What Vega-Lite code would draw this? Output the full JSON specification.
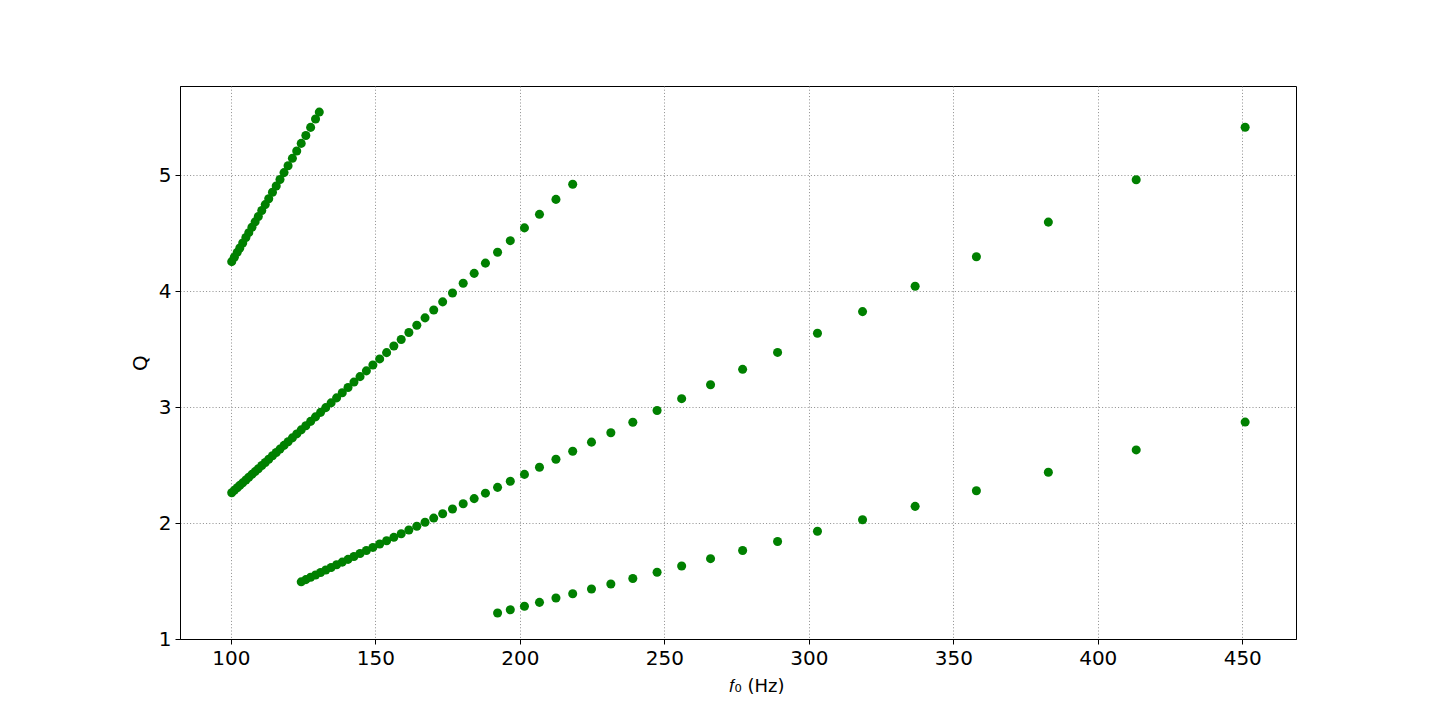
{
  "$schema": "https://vega.github.io/schema/vega-lite/v6.json",
  "autosize": {"type": "none"},
  "width": 1116,
  "height": 553,
  "padding": {"left": 180, "top": 86, "right": 144, "bottom": 79},
  "background": "white",
  "config": {
    "view": {"stroke": "black", "strokeWidth": 1},
    "axis": {
      "domainColor": "black", "domainWidth": 1,
      "tickColor": "black", "tickSize": 5, "tickWidth": 1,
      "labelFont": "DejaVu Sans", "labelFontSize": 20, "labelColor": "black", "labelPadding": 4,
      "titleFont": "DejaVu Sans", "titleFontWeight": "normal", "titleColor": "black",
      "gridColor": "#808080", "gridDash": [1, 2.2], "gridWidth": 0.9, "gridOpacity": 1
    }
  },
  "data": {"values": [
    {"f":100.3,"Q":4.255},{"f":101.2,"Q":4.293},{"f":102.2,"Q":4.335},{"f":103.1,"Q":4.373},{"f":104.1,"Q":4.416},
    {"f":105.2,"Q":4.463},{"f":106.2,"Q":4.505},{"f":107.3,"Q":4.552},{"f":108.4,"Q":4.598},{"f":109.5,"Q":4.645},
    {"f":110.7,"Q":4.696},{"f":111.9,"Q":4.747},{"f":113.1,"Q":4.798},{"f":114.4,"Q":4.853},{"f":115.7,"Q":4.908},
    {"f":117.0,"Q":4.963},{"f":118.4,"Q":5.023},{"f":119.8,"Q":5.082},{"f":121.3,"Q":5.146},{"f":122.8,"Q":5.209},
    {"f":124.35,"Q":5.275},{"f":125.95,"Q":5.343},{"f":127.6,"Q":5.413},{"f":129.3,"Q":5.485},{"f":130.6,"Q":5.545},

    {"f":100.3,"Q":2.262},{"f":101.2,"Q":2.282},{"f":102.2,"Q":2.305},{"f":103.1,"Q":2.325},{"f":104.1,"Q":2.347},
    {"f":105.2,"Q":2.372},{"f":106.2,"Q":2.395},{"f":107.3,"Q":2.420},{"f":108.4,"Q":2.444},{"f":109.5,"Q":2.469},
    {"f":110.7,"Q":2.496},{"f":111.9,"Q":2.523},{"f":113.1,"Q":2.550},{"f":114.4,"Q":2.580},{"f":115.7,"Q":2.609},
    {"f":117.0,"Q":2.638},{"f":118.4,"Q":2.670},{"f":119.8,"Q":2.701},{"f":121.3,"Q":2.735},{"f":122.8,"Q":2.769},
    {"f":124.35,"Q":2.804},{"f":125.95,"Q":2.840},{"f":127.6,"Q":2.877},{"f":129.3,"Q":2.916},{"f":131.05,"Q":2.955},
    {"f":132.85,"Q":2.996},{"f":134.7,"Q":3.037},{"f":136.6,"Q":3.080},{"f":138.55,"Q":3.124},{"f":140.55,"Q":3.169},
    {"f":142.6,"Q":3.216},{"f":144.7,"Q":3.263},{"f":146.9,"Q":3.313},{"f":149.15,"Q":3.363},{"f":151.5,"Q":3.416},
    {"f":153.9,"Q":3.470},{"f":156.4,"Q":3.527},{"f":158.95,"Q":3.584},{"f":161.6,"Q":3.644},{"f":164.35,"Q":3.706},
    {"f":167.2,"Q":3.770},{"f":170.2,"Q":3.838},{"f":173.3,"Q":3.908},{"f":176.7,"Q":3.985},{"f":180.4,"Q":4.068},
    {"f":184.2,"Q":4.154},{"f":188.1,"Q":4.242},{"f":192.3,"Q":4.336},{"f":196.7,"Q":4.436},{"f":201.6,"Q":4.546},
    {"f":206.8,"Q":4.663},{"f":212.5,"Q":4.792},{"f":218.3,"Q":4.923},

    {"f":124.35,"Q":1.493},{"f":125.95,"Q":1.512},{"f":127.6,"Q":1.532},{"f":129.3,"Q":1.552},{"f":131.05,"Q":1.573},
    {"f":132.85,"Q":1.595},{"f":134.7,"Q":1.617},{"f":136.6,"Q":1.640},{"f":138.55,"Q":1.663},{"f":140.55,"Q":1.687},
    {"f":142.6,"Q":1.712},{"f":144.7,"Q":1.737},{"f":146.9,"Q":1.763},{"f":149.15,"Q":1.790},{"f":151.5,"Q":1.819},
    {"f":153.9,"Q":1.847},{"f":156.4,"Q":1.877},{"f":158.95,"Q":1.908},{"f":161.6,"Q":1.940},{"f":164.35,"Q":1.973},
    {"f":167.2,"Q":2.007},{"f":170.2,"Q":2.043},{"f":173.3,"Q":2.080},{"f":176.7,"Q":2.121},{"f":180.4,"Q":2.166},
    {"f":184.2,"Q":2.211},{"f":188.1,"Q":2.258},{"f":192.3,"Q":2.308},{"f":196.7,"Q":2.361},{"f":201.6,"Q":2.420},
    {"f":206.8,"Q":2.482},{"f":212.5,"Q":2.551},{"f":218.3,"Q":2.620},{"f":224.8,"Q":2.698},{"f":231.5,"Q":2.779},
    {"f":239.1,"Q":2.870},{"f":247.5,"Q":2.971},{"f":256.0,"Q":3.073},{"f":266.0,"Q":3.193},{"f":277.1,"Q":3.326},
    {"f":289.2,"Q":3.472},{"f":303.0,"Q":3.637},{"f":318.6,"Q":3.824},{"f":336.8,"Q":4.043},{"f":358.0,"Q":4.297},
    {"f":382.9,"Q":4.596},{"f":413.3,"Q":4.961},{"f":451.0,"Q":5.414},

    {"f":192.3,"Q":1.224},{"f":196.7,"Q":1.252},{"f":201.6,"Q":1.283},{"f":206.8,"Q":1.316},{"f":212.5,"Q":1.353},
    {"f":218.3,"Q":1.390},{"f":224.8,"Q":1.431},{"f":231.5,"Q":1.474},{"f":239.1,"Q":1.522},{"f":247.5,"Q":1.576},
    {"f":256.0,"Q":1.630},{"f":266.0,"Q":1.693},{"f":277.1,"Q":1.764},{"f":289.2,"Q":1.841},{"f":303.0,"Q":1.929},
    {"f":318.6,"Q":2.028},{"f":336.8,"Q":2.144},{"f":358.0,"Q":2.279},{"f":382.9,"Q":2.438},{"f":413.3,"Q":2.631},
    {"f":451.0,"Q":2.871}
  ]},
  "mark": {"type": "point", "shape": "circle", "filled": true, "color": "#008000", "opacity": 1, "size": 82},
  "encoding": {
    "x": {
      "field": "f", "type": "quantitative",
      "scale": {"domain": [82.4, 468.6], "nice": false, "zero": false},
      "axis": {"values": [100,150,200,250,300,350,400,450], "title": "𝑓₀ (Hz)", "titleFontSize": 18, "titlePadding": 9, "titleX": 576}
    },
    "y": {
      "field": "Q", "type": "quantitative",
      "scale": {"domain": [1, 5.77], "nice": false, "zero": false},
      "axis": {"values": [1,2,3,4,5], "title": "Q", "titleFontSize": 20, "titlePadding": 8}
    }
  }
}
